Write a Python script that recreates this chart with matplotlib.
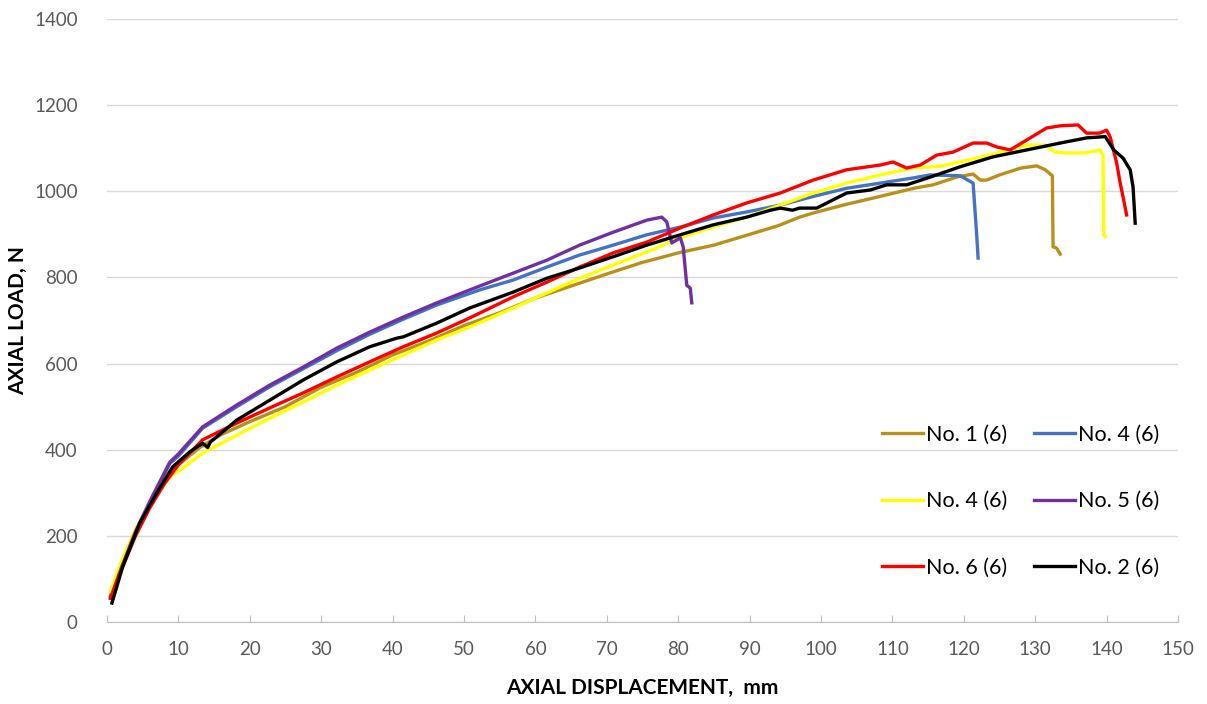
import matplotlib
matplotlib.use("Agg")
import matplotlib.pyplot as plt

plt.rcParams['font.family'] = ['Lato', 'DejaVu Sans']

# =========================
# DATA
# =========================
no1_x = [0.5, 2, 4, 6, 8, 10, 13, 16, 20, 25, 30, 35, 40, 45, 50, 55, 60, 65, 70, 75,
         78, 80, 85, 90, 94, 97, 99, 103.6, 108, 113, 115.7, 119, 121.3, 122.3, 123.2,
         125, 128, 130.2, 131.4, 132.4, 132.5, 133, 133.5]
no1_y = [60, 130, 210, 270, 320, 365, 405, 435, 465, 500, 545, 580, 620, 652, 688, 718,
         752, 780, 808, 835, 848, 857, 875, 900, 920, 940, 950, 970, 987, 1007, 1015,
         1033, 1040, 1026, 1026, 1038, 1054, 1059, 1050, 1036, 871, 868, 854]

no4b_x = [0.5, 2, 4, 6, 8.8, 10, 13.4, 18.2, 22.8, 27.5, 32.2, 36.8, 41.5, 46.2, 52.2,
          56.9, 61.6, 66.2, 70.9, 75.6, 80.3, 84.9, 89.6, 94.3, 98.9, 103.6, 108.3,
          112.9, 115.3, 119.5, 121.3, 121.8, 122]
no4b_y = [60, 125, 210, 275, 368, 385, 450, 500, 546, 588, 630, 668, 703, 736, 771,
          794, 824, 852, 875, 899, 917, 938, 952, 968, 988, 1007, 1019, 1031, 1038,
          1036, 1019, 900, 845]

no4y_x = [0.5, 2, 4, 6, 7, 8.8, 10, 13.4, 18.2, 22.8, 27.5, 32.2, 36.8, 41.5, 46.2,
          50.8, 56.9, 61.6, 66.2, 70.9, 75.6, 80.3, 84.9, 89.6, 94.3, 98.9, 103.6,
          108.3, 112.9, 116.7, 120, 125, 128.8, 131.4, 132.8, 134.4, 137, 139.1,
          139.5, 139.6, 139.8]
no4y_y = [70, 140, 215, 270, 295, 337, 350, 392, 434, 473, 511, 550, 585, 620, 655,
          685, 729, 764, 798, 829, 859, 892, 917, 940, 968, 996, 1019, 1038, 1054,
          1058, 1070, 1090, 1107, 1107, 1091, 1089, 1089, 1096, 1084, 898, 895]

no5_x = [0.5, 2, 4, 6, 8.8, 10, 13.4, 18.2, 22.8, 27.5, 32.2, 36.8, 41.5, 46.2, 50.8,
         56.9, 61.6, 66.2, 70.9, 75.6, 77.7, 78.4, 79.1, 80.3, 80.7, 81.2, 81.7, 81.9]
no5_y = [55, 125, 210, 280, 371, 390, 453, 504, 550, 592, 636, 673, 708, 741, 771,
         810, 840, 875, 905, 933, 940, 929, 880, 892, 871, 782, 775, 741]

no6_x = [0.5, 2, 4, 6, 8, 10, 13.4, 18.2, 22.8, 27.5, 32.2, 36.8, 41.5, 46.2, 50.8,
         56.9, 61.6, 66.2, 70.9, 75.6, 80.3, 84.9, 89.6, 94.3, 98.9, 103.6, 108.3,
         110.1, 112, 113.9, 116.2, 118.5, 121.3, 123.2, 124.6, 126.5, 128.8, 131.6,
         133.5, 136, 137.2, 139, 140, 140.5, 141.4, 141.9, 142.3, 142.8]
no6_y = [55, 120, 200, 265, 320, 365, 423, 462, 497, 532, 569, 604, 639, 671, 706,
         755, 789, 824, 857, 882, 915, 945, 973, 996, 1026, 1050, 1061, 1068, 1054,
         1061, 1084, 1091, 1112, 1112, 1103, 1096, 1119, 1147, 1152, 1154, 1135, 1135,
         1142, 1126, 1066, 1019, 987, 945]

no2_x = [0.7, 2.2, 4.6, 7, 9.2, 11.6, 13.4, 14.1, 14.5, 18.2, 22.8, 27.5, 32.2, 36.8,
         40.6, 41.5, 46.2, 50.8, 56.9, 61.6, 66.2, 70.9, 75.6, 80.3, 84.9, 89.6, 92.9,
         94.3, 96, 97, 99.4, 103.6, 106.9, 109.2, 112, 115.3, 119.5, 124.1, 128.8,
         133.5, 137.2, 139.8, 141, 142.3, 143.3, 143.7, 144]
no2_y = [44, 128, 230, 300, 360, 395, 415, 405, 418, 469, 515, 562, 604, 639, 659, 662,
         694, 729, 766, 798, 822, 848, 875, 899, 922, 940, 956, 961, 956, 961, 961, 996,
         1003, 1015, 1015, 1033, 1057, 1080, 1096, 1112, 1124, 1127, 1096, 1077, 1050,
         1010, 926]

x_ticks = list(range(0, 151, 10))
y_ticks = list(range(0, 1401, 200))

# =========================
# PLOT
# =========================
fig = plt.figure(figsize=(12.07, 7.04), dpi=100)
ax = fig.add_axes([0.0886, 0.1165, 0.976 - 0.0886, 0.973 - 0.1165])

lw = 2.4
h1, = ax.plot(no1_x, no1_y, color="#B8901A", lw=lw, label="No. 1 (6)")
h2, = ax.plot(no4b_x, no4b_y, color="#4472C4", lw=lw, label="No. 4 (6)")
h3, = ax.plot(no4y_x, no4y_y, color="#FFFF00", lw=lw, label="No. 4 (6)")
h4, = ax.plot(no5_x, no5_y, color="#7030A0", lw=lw, label="No. 5 (6)")
h5, = ax.plot(no6_x, no6_y, color="#FF0000", lw=lw, label="No. 6 (6)")
h6, = ax.plot(no2_x, no2_y, color="#000000", lw=lw, label="No. 2 (6)")

ax.set_xlim(0, 150)
ax.set_ylim(0, 1400)
ax.set_xticks(x_ticks)
ax.set_yticks(y_ticks)
ax.grid(axis="y", color="#D9D9D9", lw=1)
ax.set_axisbelow(True)
for s in ["top", "right", "left"]:
    ax.spines[s].set_visible(False)
ax.spines["bottom"].set_color("#BFBFBF")
ax.tick_params(axis="x", direction="in", length=5, color="#BFBFBF",
               labelsize=13.5, labelcolor="#595959", pad=14)
ax.tick_params(axis="y", length=0, labelsize=13.5, labelcolor="#595959", pad=21)

ax.set_xlabel("AXIAL DISPLACEMENT,  mm", fontsize=15, fontweight="bold")
ax.set_ylabel("AXIAL LOAD, N", fontsize=15, fontweight="bold")
ax.xaxis.set_label_coords(0.5, (622 - 688) / 603, transform=ax.transAxes)
ax.yaxis.set_label_coords((18 - 107) / 1071, 0.5, transform=ax.transAxes)
ax.xaxis.label.set_va("center")
ax.yaxis.label.set_va("center")

# Excel lists legend entries row by row, matplotlib column by column
handles = [h1, h3, h5, h2, h4, h6]
ax.legend(handles=handles, labels=[h.get_label() for h in handles], ncol=2,
          frameon=False, fontsize=15.5, handlelength=1.9, handletextpad=0.15,
          columnspacing=1.25, labelspacing=2.15, borderpad=0, borderaxespad=0,
          loc="upper left", bbox_to_anchor=(882 / 1207, 1 - 425 / 704),
          bbox_transform=fig.transFigure)

fig.savefig("out.png", dpi=100)
